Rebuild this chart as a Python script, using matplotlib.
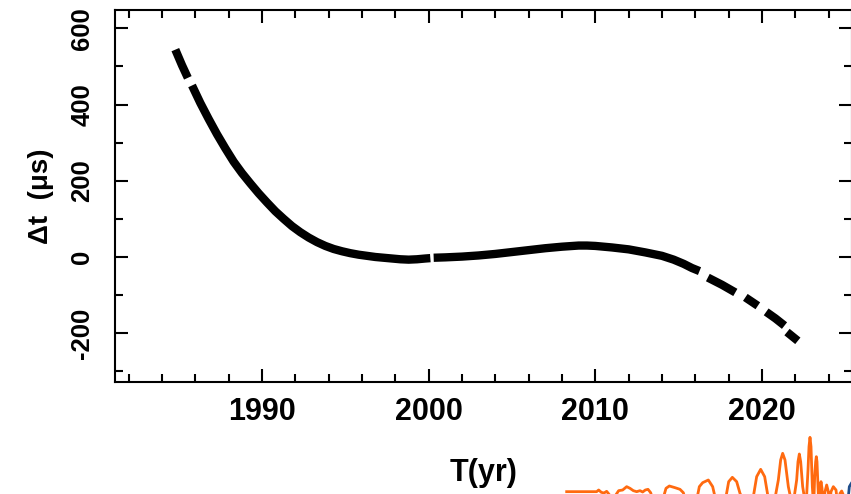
import numpy as np
import matplotlib
matplotlib.use("Agg")
import matplotlib.pyplot as plt
from matplotlib.ticker import MultipleLocator

plt.rcParams['font.family'] = ['Liberation Sans', 'DejaVu Sans']
plt.rcParams['font.weight'] = 'bold'
plt.rcParams['axes.unicode_minus'] = False

# timing residuals, one block per observing run (nan breaks the band)
yr = [1984.8, 1985.2, 1985.55, np.nan,
      1985.8, 1986.3, 1986.8, 1987.3, 1987.8, 1988.3, 1988.8, 1989.3,
      1989.8, 1990.3, 1990.8, 1991.3, 1991.8, 1992.3, 1992.8, 1993.3,
      1993.8, 1994.3, 1994.8, 1995.3, 1995.8, 1996.3, 1996.8, 1997.3,
      1997.8, 1998.3, 1998.8, 1999.3, 1999.8, 2000.1, np.nan,
      2000.3, 2001.0, 2002.0, 2003.0, 2004.0, 2005.0, 2006.0, 2007.0,
      2008.0, 2009.0, 2009.5, 2010.0, 2011.0, 2012.0, 2013.0, 2014.0,
      2014.7, 2015.3, 2015.8, 2016.25, np.nan,
      2016.75, 2017.6, 2018.4, np.nan,
      2019.0, 2019.75, np.nan,
      2020.25, 2020.8, 2021.35, np.nan,
      2021.5, 2022.15]
dt = [544, 503, 470, np.nan,
      450, 404, 362, 322, 285, 250, 220, 193,
      167, 143, 120, 100, 81, 65, 51, 39,
      29, 21, 15, 10, 6, 3, 0, -2,
      -4, -6, -7, -6, -4, -3, np.nan,
      -2, -1, 1, 4, 8, 13, 18, 23,
      27, 30, 30, 29, 25, 20, 12, 3,
      -7, -18, -29, -37, np.nan,
      -54, -73, -93, np.nan,
      -106, -128, np.nan,
      -144, -161, -180, np.nan,
      -197, -220]

# periodogram strip (index, power)
pg_f = [20, 110, 116, 124, 132, 140, 148, 158, 168, 176, 188, 200, 210, 220,
        230, 240, 248, 256, 264, 272, 280, 295, 308, 318, 328, 345, 360, 370,
        378, 395, 410, 418, 428, 445, 458, 466, 482, 498, 506, 517, 530, 540,
        560, 580, 590, 602, 614, 624, 640, 655, 662, 668, 675, 685, 698, 710,
        714, 718, 722, 728, 738, 744, 747, 750, 753, 757, 761, 764, 767, 769,
        771, 774, 777, 780, 783, 786, 790, 795, 800, 805, 809, 813, 820, 828,
        834, 840, 845, 850, 856]
pg_p = [55, 55, 60, 53, 51, 56, 46, 20, 46, 58, 60, 70, 65, 58,
        55, 58, 54, 60, 62, 52, 25, 10, 30, 65, 72, 67, 62, 52,
        25, 10, 30, 70, 82, 90, 70, 35, 8, 40, 85, 98, 85, 50,
        8, 40, 100, 122, 100, 40, 8, 90, 150, 170, 150, 70, 8, 90,
        145, 168, 145, 70, 8, 120, 190, 218, 190, 70, 8, 100, 145, 160,
        145, 70, 8, 60, 85, 65, 8, 55, 75, 55, 8, 55, 70, 60,
        8, 50, 57, 45, 8]
pg2_f = [862, 868, 874]
pg2_p = [8, 70, 80]

fig = plt.figure(figsize=(8.51, 4.94), dpi=100)
ax = fig.add_axes([114.5 / 851, 112 / 494, 737.5 / 851, 372 / 494])

ax.plot(yr, dt, '-', color='black', lw=6, solid_capstyle='butt',
        solid_joinstyle='round')

ax.set_xlim(1981.15, 2025.4)
ax.set_ylim(-328, 648)
ax.xaxis.set_major_locator(MultipleLocator(10))
ax.xaxis.set_minor_locator(MultipleLocator(2))
ax.yaxis.set_major_locator(MultipleLocator(200))
ax.yaxis.set_minor_locator(MultipleLocator(100))

ax.tick_params(which='both', direction='in', top=True, right=True, width=1.5)
ax.tick_params(which='major', length=9.5)
ax.tick_params(which='minor', length=5.5)
ax.tick_params(axis='x', labelsize=22, pad=11)
ax.tick_params(axis='y', labelsize=18.5, pad=14.5, labelrotation=90)
for lab in ax.get_yticklabels():
    lab.set_va('center')
for sp in ax.spines.values():
    sp.set_linewidth(1.5)

ax.set_xlabel('T(yr)', fontsize=22, fontweight='bold', labelpad=22)
ax.set_ylabel('Δt  (μs)', fontsize=20, fontweight='bold', labelpad=12)

# strip of the next panel peeking in at the bottom
ax2 = fig.add_axes([560 / 851, -16 / 494, 300 / 851, 90 / 494])
ax2.plot(pg_f, pg_p, color='#ff6a10', lw=2)
ax2.plot(pg2_f, pg2_p, color='#1f4e8c', lw=2)
ax2.set_xlim(0, 900)
ax2.set_ylim(0, 270)
ax2.axis('off')

fig.savefig('out.png', dpi=100)
